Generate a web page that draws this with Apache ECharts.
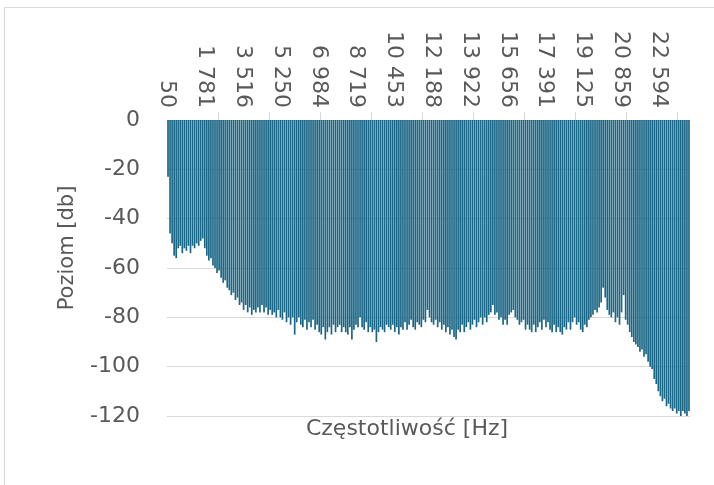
<!DOCTYPE html>
<html>
<head>
<meta charset="utf-8">
<script src="https://cdn.jsdelivr.net/npm/echarts@6/dist/echarts.min.js"></script>
<style>
html,body{margin:0;padding:0;background:#fff;}
#chart{width:714px;height:485px;}
</style>
</head>
<body>
<div id="chart"></div>
<script>
// Spectrum level [dB], one value per group of 8 FFT bins (bin width 11.71875 Hz), from ~50 Hz to ~24 kHz
const levels = [
 -23,-46,-50,-55,-56,-52,-51,-54,-52,-53,
 -51,-54,-51,-52,-50,-51,-49,-48,-52,-55,
 -57,-56,-59,-60,-62,-61,-64,-66,-65,-68,
 -69,-71,-70,-73,-72,-75,-74,-77,-75,-78,
 -76,-79,-77,-78,-76,-78,-75,-78,-76,-79,
 -77,-79,-78,-80,-77,-80,-81,-78,-82,-80,
 -83,-80,-87,-82,-80,-83,-84,-81,-85,-82,
 -84,-81,-85,-83,-86,-87,-84,-89,-86,-84,
 -87,-83,-86,-84,-83,-86,-84,-86,-87,-84,
 -89,-85,-83,-84,-80,-84,-85,-82,-86,-84,
 -86,-85,-90,-86,-84,-85,-86,-83,-84,-85,
 -83,-86,-84,-87,-84,-85,-82,-85,-83,-81,
 -84,-85,-82,-83,-84,-81,-82,-77,-80,-82,
 -83,-81,-84,-82,-85,-83,-86,-84,-87,-85,
 -88,-89,-85,-86,-83,-86,-84,-82,-85,-83,
 -81,-84,-82,-80,-83,-80,-82,-79,-78,-75,
 -79,-78,-81,-80,-83,-81,-83,-79,-78,-77,
 -80,-81,-83,-82,-81,-85,-83,-85,-86,-83,
 -86,-84,-82,-85,-81,-84,-82,-85,-86,-83,
 -86,-84,-86,-87,-84,-85,-82,-85,-82,-80,
 -83,-82,-85,-86,-83,-84,-81,-80,-79,-77,
 -78,-76,-74,-68,-72,-77,-79,-80,-78,-82,
 -80,-83,-78,-71,-81,-83,-86,-88,-90,-91,
 -92,-94,-93,-96,-95,-98,-100,-101,-105,-107,
 -110,-112,-114,-113,-116,-115,-117,-118,-117,-119,
 -118,-120,-118,-119,-120,-118
];
// Frequency axis (Hz)
const binHz = 11.71875;
const firstBin = 4;
const binsPerGroup = 8;
const categories = levels.map((_, i) => String(Math.round((firstBin + binsPerGroup * i) * binHz)));
const tickLabels = ['50','1 781','3 516','5 250','6 984','8 719','10 453','12 188','13 922','15 656','17 391','19 125','20 859','22 594'];
const labelFreqs = tickLabels.map(s => parseFloat(s.replace(/\s/g, '')));
const tickFreqs = [41, 2384.8, 4728.5, 7072.3, 9416, 11759.8, 14103.5, 16447.3, 18791, 21134.8, 23478.5];
const freqMin = (firstBin - 0.5) * binHz;
const freqMax = (firstBin - 0.5 + binsPerGroup * levels.length) * binHz;

const FONT = 'DejaVu Sans';
const GREY = '#595959';

const chart = echarts.init(document.getElementById('chart'), null, {renderer: 'canvas'});
chart.setOption({
  animation: false,
  backgroundColor: '#ffffff',
  grid: {left: 167, right: 24, top: 120, bottom: 69, containLabel: false},
  xAxis: [
    {
      type: 'category',
      position: 'top',
      data: categories,
      boundaryGap: true,
      axisLine: {show: false},
      axisTick: {show: false},
      axisLabel: {show: false},
      splitLine: {show: false}
    },
    {
      type: 'value',
      position: 'top',
      min: freqMin,
      max: freqMax,
      axisLine: {show: true, onZero: false, lineStyle: {color: '#d9d9d9', width: 1}},
      axisTick: {show: true, customValues: tickFreqs, length: 8, inside: false, lineStyle: {color: '#d9d9d9'}},
      axisLabel: {
        show: true,
        customValues: labelFreqs,
        rotate: 90,
        margin: 12,
        fontFamily: FONT,
        fontSize: 22,
        color: GREY,
        formatter: function (v) {
          let best = 0;
          for (let k = 1; k < labelFreqs.length; k++) {
            if (Math.abs(labelFreqs[k] - v) < Math.abs(labelFreqs[best] - v)) best = k;
          }
          return tickLabels[best];
        }
      },
      splitLine: {show: false}
    }
  ],
  yAxis: {
    type: 'value',
    min: -120,
    max: 0,
    interval: 20,
    axisLine: {show: false},
    axisTick: {show: false},
    axisLabel: {fontFamily: FONT, fontSize: 22, color: GREY, margin: 27},
    splitLine: {show: true, lineStyle: {color: '#d9d9d9', width: 1}}
  },
  series: [{
    type: 'bar',
    xAxisIndex: 0,
    data: levels,
    barWidth: 1.7,
    itemStyle: {color: '#1a6686'},
    silent: true
  }],
  graphic: [
    {
      type: 'rect',
      shape: {x: 4.5, y: 7.5, width: 720, height: 500},
      style: {fill: 'none', stroke: '#d9d9d9', lineWidth: 1},
      silent: true
    },
    {
      type: 'text',
      x: 407, y: 429,
      style: {text: 'Częstotliwość [Hz]', font: '22px "DejaVu Sans"', fill: GREY, textAlign: 'center', textVerticalAlign: 'middle'}
    },
    {
      type: 'text',
      x: 68, y: 248,
      rotation: Math.PI / 2,
      style: {text: 'Poziom [db]', font: '21px "DejaVu Sans"', fill: GREY, textAlign: 'center', textVerticalAlign: 'middle'}
    }
  ]
});
</script>
</body>
</html>
